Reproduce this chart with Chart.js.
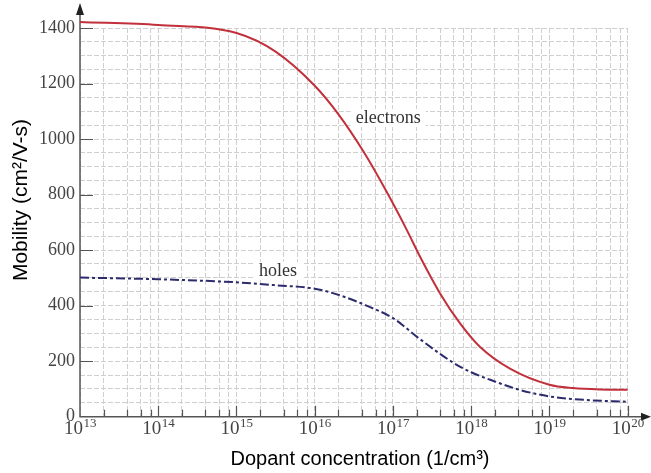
<!DOCTYPE html>
<html>
<head>
<meta charset="utf-8">
<script src="https://cdn.jsdelivr.net/npm/chart.js@4/dist/chart.umd.min.js"></script>
<style>
  html, body { margin: 0; padding: 0; background: #fff; }
  #wrap { width: 651px; height: 473px; }
</style>
</head>
<body>
<div id="wrap"><canvas id="c" width="651" height="473"></canvas></div>
<script>
// ---- Data ----
const electronConc = [1e13, 1e14, 1e15, 3.16e15, 1e16, 2e16, 4.2e16, 8.3e16, 1.5e17, 2.22e17, 4e17, 7.2e17, 1.29e18, 3.13e18, 1e19, 2e19, 4.5e19, 1e20];
const electronMob  = [1422, 1411, 1382, 1315, 1192, 1090, 955, 810, 673, 576, 444, 336, 252, 173, 115, 103, 98, 97];

const holeConc = [1e13, 1e14, 1e15, 3e15, 1e16, 2.1e16, 4.6e16, 1e17, 2.2e17, 6e17, 1e18, 2e18, 4e18, 1e19, 3e19, 1e20];
const holeMob  = [501, 495, 484, 474, 461, 437, 400, 355, 280, 193, 160, 127, 98, 73, 60, 54];

const xDecades = [13, 14, 15, 16, 17, 18, 19, 20];
const xMinorMultipliers = [2, 4, 6, 8];
const yLabelStep = 200;
const yGridStep = 50;

const curveLabels = ['electrons', 'holes'];
const curveLabelX = [8.7e16, 3.4e15];
const curveLabelY = [1076, 525];

const yTitle = 'Mobility (cm\u00B2/V-s)';
const xTitle = 'Dopant concentration (1/cm\u00B3)';

const xTickValues = [];
xDecades.forEach((d, i) => {
  xTickValues.push(Math.pow(10, d));
  if (i < xDecades.length - 1) xMinorMultipliers.forEach(m => xTickValues.push(m * Math.pow(10, d)));
});
const isDecade = v => { const lg = Math.log10(v); return Math.abs(lg - Math.round(lg)) < 1e-9; };

const SERIF = '"Liberation Serif", "DejaVu Serif", "Times New Roman", serif';
const SANS = '"Liberation Sans", Arial, "DejaVu Sans", sans-serif';

const decor = {
  id: 'decor',
  beforeDatasetsDraw(chart) {
    const {ctx, chartArea: a, scales: {x, y}} = chart;
    ctx.save();
    // curve labels with white backing
    ctx.font = '18px ' + SERIF;
    ctx.textAlign = 'center';
    ctx.textBaseline = 'middle';
    curveLabels.forEach((t, i) => {
      const px = x.getPixelForValue(curveLabelX[i]);
      const py = y.getPixelForValue(curveLabelY[i]);
      const w = ctx.measureText(t).width;
      ctx.fillStyle = '#ffffff';
      ctx.fillRect(px - w / 2 - 5, py - 9, w + 10, 18);
      ctx.fillStyle = '#333333';
      ctx.fillText(t, px, py);
    });
    // axis lines
    ctx.setLineDash([]);
    ctx.strokeStyle = '#555555';
    ctx.lineWidth = 1.5;
    ctx.beginPath();
    ctx.moveTo(a.left, a.bottom + 0.5);
    ctx.lineTo(a.left, 14);
    ctx.moveTo(a.left - 0.5, a.bottom);
    ctx.lineTo(643, a.bottom);
    ctx.stroke();
    // arrows
    ctx.fillStyle = '#222222';
    ctx.beginPath();
    ctx.moveTo(a.left, 3);
    ctx.lineTo(a.left - 4, 15);
    ctx.lineTo(a.left + 4, 15);
    ctx.closePath();
    ctx.fill();
    ctx.beginPath();
    ctx.moveTo(651, a.bottom);
    ctx.lineTo(641, a.bottom - 4);
    ctx.lineTo(641, a.bottom + 4);
    ctx.closePath();
    ctx.fill();
    // tick marks (inside)
    ctx.strokeStyle = '#555555';
    ctx.lineWidth = 1.2;
    ctx.beginPath();
    y.ticks.forEach(t => {
      if (t.value % yLabelStep === 0 && t.value > 0) {
        const py = Math.round(y.getPixelForValue(t.value)) + 0.5;
        ctx.moveTo(a.left, py);
        ctx.lineTo(a.left + 13, py);
      }
    });
    x.ticks.forEach(t => {
      if (t.value === x.min) return;
      const px = Math.round(x.getPixelForValue(t.value)) + 0.5;
      ctx.moveTo(px, a.bottom);
      ctx.lineTo(px, a.bottom - (isDecade(t.value) ? 11 : 7));
    });
    ctx.stroke();
    // x tick labels: 10 with raised exponent
    ctx.fillStyle = '#444444';
    ctx.textBaseline = 'alphabetic';
    ctx.textAlign = 'left';
    x.ticks.forEach(t => {
      if (!isDecade(t.value)) return;
      const exp = String(Math.round(Math.log10(t.value)));
      const px = x.getPixelForValue(t.value);
      ctx.font = '19px ' + SERIF;
      const wb = ctx.measureText('10').width;
      ctx.font = '13px ' + SERIF;
      const we = ctx.measureText(exp).width;
      const x0 = px - (wb + we) / 2;
      ctx.font = '19px ' + SERIF;
      ctx.fillText('10', x0, a.bottom + 17);
      ctx.font = '13px ' + SERIF;
      ctx.fillText(exp, x0 + wb + 0.5, a.bottom + 10);
    });
    // x title
    ctx.font = '20px ' + SANS;
    ctx.fillStyle = '#000000';
    ctx.textAlign = 'center';
    ctx.textBaseline = 'middle';
    ctx.fillText(xTitle, 360, 459);
    // y title
    ctx.font = '21px ' + SANS;
    ctx.translate(21, 200);
    ctx.rotate(-Math.PI / 2);
    ctx.fillText(yTitle, 0, 0);
    ctx.restore();
  }
};

new Chart(document.getElementById('c'), {
  type: 'line',
  data: {
    datasets: [
      {
        label: 'electrons',
        data: electronConc.map((c, i) => ({x: c, y: electronMob[i]})),
        borderColor: '#c1303b',
        borderWidth: 2,
        pointRadius: 0,
        cubicInterpolationMode: 'monotone',
        fill: false,
        clip: false
      },
      {
        label: 'holes',
        data: holeConc.map((c, i) => ({x: c, y: holeMob[i]})),
        borderColor: '#2b2b6e',
        borderWidth: 2,
        borderDash: [9, 3, 3, 3],
        pointRadius: 0,
        cubicInterpolationMode: 'monotone',
        fill: false,
        clip: false
      }
    ]
  },
  options: {
    responsive: false,
    animation: false,
    events: [],
    layout: { padding: { left: 0, top: 28, right: 23.3, bottom: 0 } },
    plugins: { legend: { display: false }, tooltip: { enabled: false } },
    scales: {
      x: {
        type: 'logarithmic',
        min: 1e13,
        max: 1e20,
        afterBuildTicks: s => { s.ticks = xTickValues.map(v => ({value: v})); },
        afterFit: s => { s.height = 56.3; },
        ticks: {
          display: false,
          autoSkip: false,
          maxRotation: 0,
          callback: v => (isDecade(v) ? '10^' + Math.round(Math.log10(v)) : '')
        },
        grid: { color: '#cfcfcf', lineWidth: 1, drawTicks: false },
        border: { display: false, dash: [5, 2] },
        title: { display: false, text: xTitle }
      },
      y: {
        min: 0,
        max: 1400,
        afterBuildTicks: s => {
          const t = [];
          for (let v = 0; v <= 1400; v += yGridStep) t.push({value: v});
          s.ticks = t;
        },
        afterFit: s => { s.width = 80; },
        ticks: {
          autoSkip: false,
          padding: 5,
          color: '#444444',
          font: { family: SERIF, size: 18 },
          callback: v => (v % yLabelStep === 0 ? String(v) : '')
        },
        grid: { color: '#cfcfcf', lineWidth: 1, drawTicks: false },
        border: { display: false, dash: [5, 2] },
        title: { display: false, text: yTitle }
      }
    }
  },
  plugins: [decor]
});
</script>
</body>
</html>
